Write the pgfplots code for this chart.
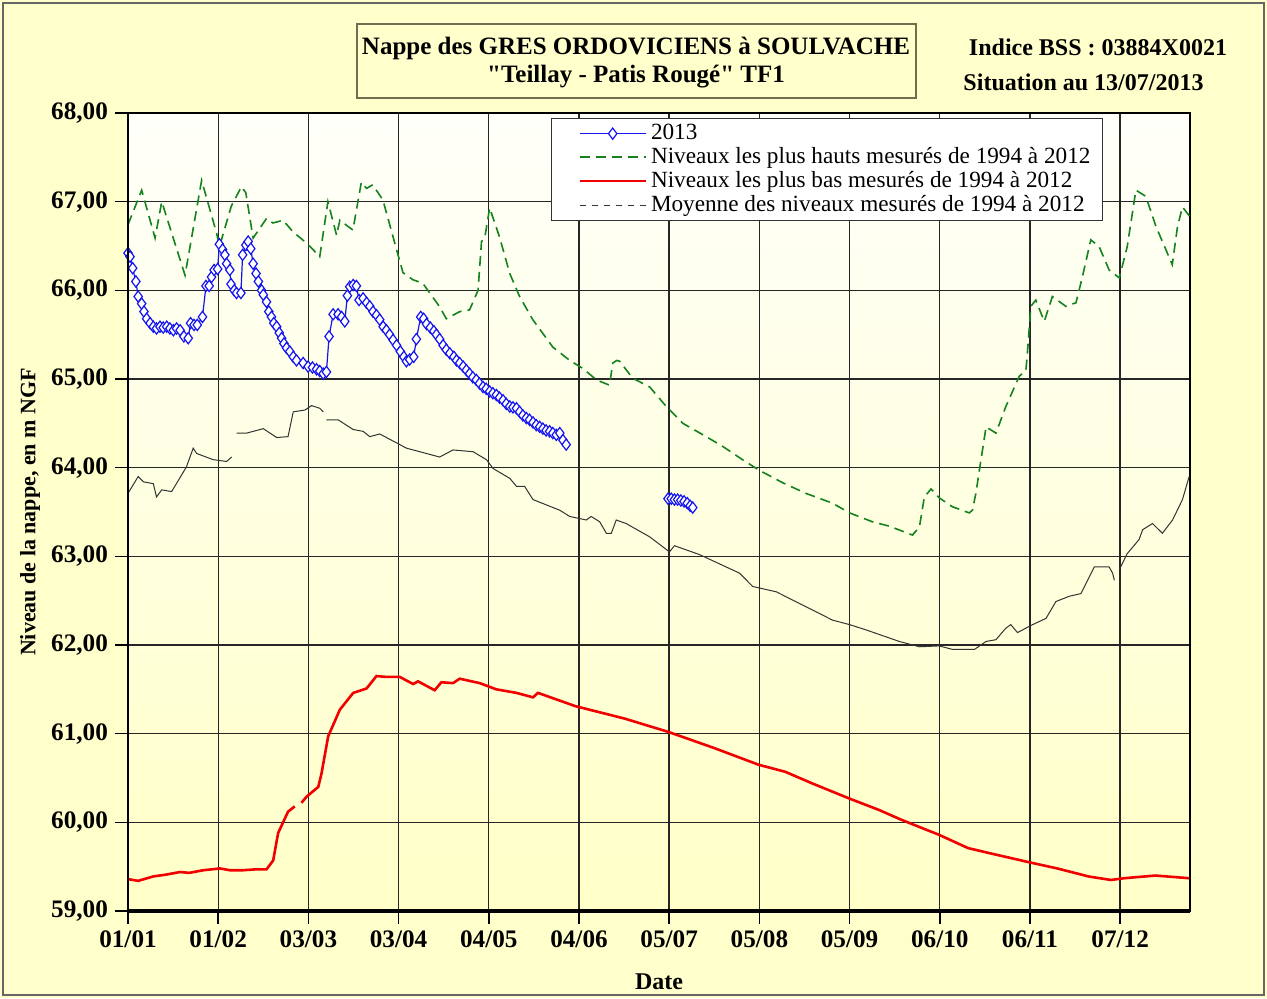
\documentclass[border=0pt]{standalone}
\usepackage{pgfplots}
\pgfplotsset{compat=1.18}
\usepackage{fontspec}
\setmainfont{Liberation Serif}[Ligatures=TeXOff]
\definecolor{bgy}{RGB}{255,255,204}
\definecolor{hgreen}{RGB}{20,130,30}
\definecolor{lred}{RGB}{240,0,0}
\definecolor{bblue}{RGB}{20,20,240}
\definecolor{boxedge}{RGB}{110,110,80}
\begin{document}
\begin{tikzpicture}
\fill[bgy] (-64pt,-43.5pt) rectangle (569.5pt,455.5pt);
\draw[black!60, line width=1pt] (-62.5pt,-42pt) rectangle (568pt,454pt);
\begin{axis}[
  at={(0pt,0pt)}, anchor=south west,
  scale only axis, width=531pt, height=399pt,
  xmin=0, xmax=365, ymin=59, ymax=68,
  xtick={0,31,62,93,124,155,186,217,248,279,310,341},
  xticklabels={01/01,01/02,03/03,03/04,04/05,04/06,05/07,05/08,05/09,06/10,06/11,07/12},
  ytick={59,60,...,68},
  xtick pos=left, ytick pos=left,
  grid=major,
  major grid style={black!85, line width=0.7pt},
  axis line style={black, line width=0.8pt},
  tick align=outside, major tick length=6.5pt,
  tick style={black, line width=0.8pt},
  ticklabel style={font=\bfseries\fontsize{12.6}{14}\selectfont},
  /pgf/number format/assume math mode=true,
  yticklabel={\pgfmathprintnumber[fixed,fixed zerofill,precision=2,use comma]{\tick}},
  axis background/.style={shade, top color=yellow!2, bottom color=yellow!22},
  clip=false,
  unbounded coords=jump,
  reverse legend,
  legend cell align=left,
  legend style={at={(rel axis cs:0.3983,0.9937)}, anchor=north west, draw=black!80, fill=white,
    font=\fontsize{11.6}{13}\selectfont, row sep=-1.6pt, inner xsep=4pt, inner ysep=1pt,
    nodes={inner xsep=2pt}},
  legend image code/.code={\path (-9.5pt,0pt); \draw[mark repeat=2,mark phase=2,#1] plot coordinates {(0pt,0pt) (16.5pt,0pt) (33pt,0pt)};},
]
% Moyenne
\addplot[black!80, line width=0.5pt,
  legend image code/.code={\path (-9.5pt,0pt); \draw[black!80, dashed, line width=0.5pt] (0pt,0pt) -- (33pt,0pt);}]
coordinates {
(0,63.71)(3.5,63.90)(5.3,63.84)(8.7,63.82)(9.8,63.67)(11.6,63.75)(15,63.73)(20.1,64.01)(22.4,64.22)(23.6,64.16)
(29.3,64.09)(33.9,64.07)(35.6,64.12)(36.4,nan)(37.3,64.39)(40.8,64.39)(46.5,64.44)(51.1,64.34)(55,64.35)(56.8,64.63)(60.8,64.65)
(63.1,64.70)(65.9,64.67)(67.1,64.63)(67.6,nan)(68.2,64.54)(72.2,64.54)(77.4,64.43)(80.8,64.41)(83.1,64.35)(86.5,64.38)(92.3,64.28)
(95.7,64.22)(100.3,64.18)(107.1,64.12)(111.7,64.20)(118.6,64.18)(123.2,64.09)(125.5,63.99)(131.2,63.88)(133.5,63.79)(136.3,63.79)
(139.2,63.64)(148.4,63.52)(151.8,63.45)(157.5,63.41)(159.2,63.45)(162.1,63.39)(164.4,63.26)(166.1,63.26)(167.8,63.41)(171.2,63.37)
(179.3,63.22)(186.1,63.05)(187.8,63.12)(196.4,63.02)(210.2,62.81)(214.7,62.66)(222.8,62.60)(233.1,62.43)(242.2,62.28)(248,62.23)
(253.7,62.17)(265.1,62.04)(272,61.98)(278.8,61.99)(283.4,61.95)(290.9,61.95)(294.9,62.04)(298.3,62.06)(301.7,62.19)(303.4,62.23)
(305.7,62.14)(310.9,62.23)(315.5,62.30)(318.9,62.49)(323.5,62.55)(327.5,62.58)(332.1,62.88)(337.2,62.88)(338.4,62.81)(339,62.73)
(339.8,nan)(340.7,62.85)(343.4,63.03)(347.5,63.19)(348.7,63.30)(352.1,63.37)(355.5,63.26)(359,63.41)(362.4,63.64)(364.7,63.90)
};
\addlegendentry{Moyenne des niveaux mesurés de 1994 à 2012}
% Plus bas
\addplot[lred, line width=1.3pt] coordinates {
(0,59.36)(3.5,59.34)(8.7,59.39)(13,59.41)(17.9,59.44)(21,59.43)(25.9,59.46)(31.6,59.48)(35,59.46)(39.6,59.46)(44,59.47)(47.6,59.47)
(49.9,59.57)(51.6,59.88)(55,60.12)(57.3,60.18)(58.3,nan)(59.6,60.22)(61.4,60.29)(65.4,60.40)(66.5,60.55)(68.8,60.97)(72.8,61.27)
(77.4,61.46)(82,61.51)(85.4,61.65)(88.8,61.64)(93.4,61.64)(98,61.56)(99.7,61.59)(105.4,61.49)(107.7,61.58)(111.7,61.57)
(114,61.62)(120.9,61.57)(126.6,61.50)(133.5,61.46)(139.2,61.41)(140.9,61.46)(153.8,61.31)(170.7,61.17)(185.7,61.02)
(201.3,60.84)(216.7,60.65)(225.9,60.57)(235.1,60.44)(247.8,60.27)(258.1,60.14)(265.7,60.03)(278.7,59.86)(288.7,59.71)
(296.4,59.65)(309.7,59.55)(319.4,59.48)(330.1,59.39)(337.8,59.35)(342.4,59.37)(353.1,59.40)(360.8,59.38)(364.6,59.37)
};
\addlegendentry{Niveaux les plus bas mesurés de 1994 à 2012}
% Plus hauts
\addplot[hgreen, line width=0.8pt, dash pattern=on 5pt off 3pt] coordinates {
(0,66.74)(4.7,67.13)(9.3,66.59)(11.6,67.00)(19.6,66.17)(25.3,67.24)(30.4,66.65)(31.5,66.50)(35.5,66.95)(39,67.17)(40.5,67.10)
(43,66.59)(47.6,66.81)(49.8,66.76)(53.3,66.79)(56.7,66.66)(60,66.57)(63,66.48)(65.9,66.38)(68.7,67.00)(71.7,66.62)(72.8,66.79)
(77.3,66.68)(80.2,67.22)(82,67.15)(84.1,67.19)(87.6,67.02)(92.3,66.46)(94.5,66.20)(97.9,66.12)(101.3,66.08)(107,65.82)
(109.4,65.68)(114,65.76)(117.4,65.78)(120.3,66.00)(121.5,66.55)(122.6,66.59)(124.3,66.93)(127.7,66.60)(131.2,66.19)
(134.6,65.93)(139.1,65.67)(146,65.36)(151.8,65.21)(156.3,65.12)(161,64.99)(165.5,64.93)(166.6,65.18)(168,65.21)(169,65.20)
(173.4,65.01)(179.3,64.91)(185,64.69)(190.7,64.50)(198.7,64.35)(204.4,64.24)(211.2,64.09)(217,63.97)(225,63.83)(233,63.71)
(242.1,63.60)(248,63.49)(255.8,63.39)(261.7,63.34)(269.6,63.24)(272,63.33)(273.7,63.67)(276,63.76)(278.8,63.66)(283.3,63.56)
(289.1,63.49)(290.2,63.52)(291.4,63.71)(292.6,63.97)(294.9,64.46)(298.3,64.39)(301.7,64.69)(306.3,65.03)(308.6,65.10)
(309.1,65.29)(310.3,65.82)(312,65.89)(314.9,65.65)(317.7,65.93)(322.3,65.82)(325.8,65.86)(328,66.15)(330.9,66.57)(333.8,66.49)
(337.2,66.23)(340.7,66.14)(343.4,66.49)(346.4,67.13)(349.8,67.06)(353.3,66.72)(358.9,66.29)(360.7,66.72)(362.4,66.94)(365,66.83)
};
\addlegendentry{Niveaux les plus hauts mesurés de 1994 à 2012}
% 2013
\addplot[bblue, line width=0.6pt, mark=diamond*, mark size=2.8pt, mark options={fill=white, draw=bblue, line width=0.6pt, solid}] coordinates {
(0,66.42)(0.7,66.38)(1.6,66.25)(2.7,66.10)(3.5,65.93)(4.7,65.85)(5.5,65.76)(6.4,65.68)(7.6,65.63)(8.7,65.59)(9.8,65.57)
(11,65.59)(12.1,65.58)(13.3,65.59)(14.4,65.57)(15.6,65.55)(16.7,65.57)(17.9,65.55)(19.2,65.48)(20.7,65.46)(21.5,65.63)
(22.7,65.61)(23.8,65.61)(25.6,65.70)(26.8,66.05)(27.9,66.05)(28.7,66.15)(29.6,66.23)(30.8,66.24)(31.4,66.52)(32.5,66.46)
(33.3,66.40)(33.9,66.30)(35,66.23)(35.4,66.07)(36.5,66.00)(37.3,65.97)(38.8,65.97)(39.4,66.40)(40.5,66.51)(41.3,66.55)
(42.2,66.47)(43,66.30)(44,66.19)(44.8,66.10)(45.9,66.00)(46.5,65.95)(47.6,65.87)(48.4,65.76)(49.3,65.70)(50.1,65.63)
(51.1,65.59)(52,65.52)(52.8,65.46)(53.6,65.40)(54.5,65.35)(55.6,65.31)(56.8,65.25)(57.9,65.21)(60.2,65.18)(61.9,65.14)
(63.4,65.13)(64.8,65.11)(65.9,65.09)(67.1,65.06)(68.2,65.08)(69.1,65.48)(70.5,65.73)(72.2,65.73)(73.4,65.70)(74.5,65.65)
(75.4,65.94)(76.2,66.04)(77.4,66.06)(78.5,66.05)(79.4,65.89)(80.8,65.91)(82,65.86)(83.1,65.82)(84.2,65.76)(85.4,65.72)
(86.5,65.67)(87.7,65.59)(88.8,65.55)(89.9,65.50)(91.1,65.44)(92.3,65.38)(93.6,65.31)(94.8,65.25)(95.7,65.20)(96.8,65.22)
(98.2,65.25)(99.1,65.45)(100.6,65.70)(101.6,65.68)(102.6,65.62)(103.9,65.58)(105.1,65.54)(106,65.50)(107.1,65.45)(108.3,65.38)
(109.4,65.33)(110.6,65.29)(112,65.25)(112.9,65.21)(114,65.18)(115.2,65.14)(116.3,65.10)(117.4,65.06)(118.5,65.02)(119.7,64.99)
(120.8,64.95)(122,64.91)(123.1,64.89)(124.3,64.86)(125.4,64.84)(126.6,64.82)(127.7,64.79)(128.9,64.76)(130,64.72)(131.2,64.69)
(132.3,64.68)(133.5,64.67)(134.6,64.63)(135.7,64.59)(136.9,64.56)(138,64.54)(139.2,64.51)(140.3,64.48)(141.5,64.46)(142.6,64.44)
(143.7,64.42)(144.9,64.41)(146,64.39)(147.2,64.37)(148.4,64.39)(149.5,64.31)(150.6,64.26)
(160,nan)
(185.6,63.65)(186.7,63.65)(187.8,63.64)(188.9,63.64)(190,63.63)(191.1,63.62)(192.2,63.60)(193.2,63.57)(194.1,63.55)
};
\addlegendentry{2013}
\end{axis}
\draw[black, line width=1.6pt] (0pt,0pt) -- (531pt,0pt);
\draw[black, line width=1.1pt] (0pt,0pt) -- (0pt,399pt);
% title box
\draw[boxedge, line width=1.2pt, fill=bgy] (114.5pt,406.5pt) rectangle (394pt,443.5pt);
\node[font=\bfseries\fontsize{12.5}{14}\selectfont] at (254pt,431.5pt) {Nappe des GRES ORDOVICIENS à SOULVACHE};
\node[font=\bfseries\fontsize{12.5}{14}\selectfont] at (254pt,417pt) {"Teillay - Patis Rougé" TF1};
\node[font=\bfseries\fontsize{12}{14}\selectfont] at (485pt,432pt) {Indice BSS : 03884X0021};
\node[font=\bfseries\fontsize{12}{14}\selectfont] at (477.75pt,414.5pt) {Situation au 13/07/2013};
\node[font=\bfseries\fontsize{12}{14}\selectfont] at (265.5pt,-35.5pt) {Date};
\node[font=\bfseries\fontsize{11}{13}\selectfont, rotate=90] at (-49pt,199.5pt) {Niveau de la nappe, en m NGF};
\end{tikzpicture}
\end{document}
